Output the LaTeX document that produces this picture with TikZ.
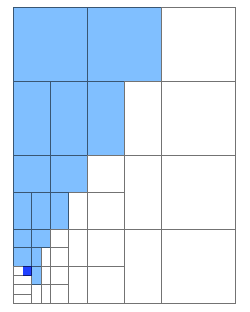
\documentclass[tikz,border=0pt]{standalone}
\usepackage{tikz}
\usetikzlibrary{positioning}
\usepackage{xcolor}
\definecolor{cellblue}{RGB}{128,191,255}
\definecolor{markblue}{RGB}{32,64,255}

\begin{document}
\begin{tikzpicture}[scale=0.25, yscale=-1,
    gridline/.style={draw=black, draw opacity=0.55, line width=0.7pt}]
  \useasboundingbox (-1.44,-0.79) rectangle (25.48,32.94);
  % filled cells
  \fill[cellblue] (0,0) rectangle (16,8);
  \fill[cellblue] (0,8) rectangle (12,16);
  \fill[cellblue] (0,16) rectangle (8,20);
  \fill[cellblue] (0,20) rectangle (6,24);
  \fill[cellblue] (0,24) rectangle (4,26);
  \fill[cellblue] (0,26) rectangle (3,28);
  \fill[cellblue] (2,28) rectangle (3,30);
  \fill[markblue] (1,28) rectangle (2,29);
  % cell borders
  \path[gridline]
    (0,0) rectangle (8,8) (8,0) rectangle (16,8) (16,0) rectangle (24,8)
    (0,8) rectangle (4,16) (4,8) rectangle (8,16) (8,8) rectangle (12,16)
    (12,8) rectangle (16,16) (16,8) rectangle (24,16)
    (0,16) rectangle (4,20) (4,16) rectangle (8,20) (8,16) rectangle (12,20)
    (12,16) rectangle (16,24) (16,16) rectangle (24,24)
    (0,20) rectangle (2,24) (2,20) rectangle (4,24) (4,20) rectangle (6,24)
    (6,20) rectangle (8,24) (8,20) rectangle (12,24)
    (16,24) rectangle (24,32) (12,24) rectangle (16,32)
    (8,24) rectangle (12,28) (8,28) rectangle (12,32)
    (6,24) rectangle (8,28) (6,28) rectangle (8,32)
    (4,24) rectangle (6,26) (4,26) rectangle (6,28)
    (4,28) rectangle (6,30) (4,30) rectangle (6,32)
    (0,24) rectangle (2,26) (2,24) rectangle (4,26)
    (0,26) rectangle (2,28) (2,26) rectangle (3,28) (3,26) rectangle (4,28)
    (0,28) rectangle (2,29) (0,29) rectangle (2,30)
    (0,30) rectangle (2,31) (0,31) rectangle (2,32)
    (2,28) rectangle (3,30) (3,28) rectangle (4,30)
    (2,30) rectangle (3,32) (3,30) rectangle (4,32);
\end{tikzpicture}
\end{document}
